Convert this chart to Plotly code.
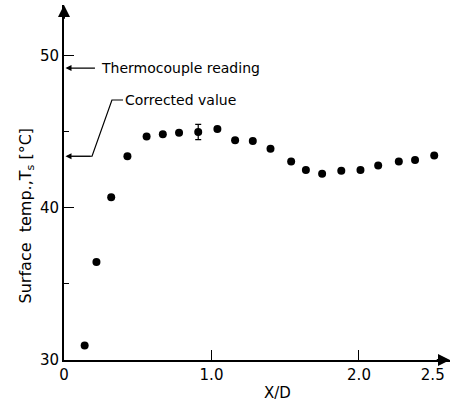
import plotly.graph_objects as go

# Data
x_d = [0.14, 0.22, 0.32, 0.43, 0.56, 0.67, 0.78, 0.91, 1.04, 1.16, 1.28,
       1.40, 1.54, 1.64, 1.75, 1.88, 2.01, 2.13, 2.27, 2.38, 2.51]
ts = [30.95, 36.45, 40.7, 43.4, 44.7, 44.85, 44.95, 45.0, 45.2, 44.45, 44.4,
      43.9, 43.05, 42.5, 42.25, 42.45, 42.5, 42.8, 43.05, 43.15, 43.45]
err = [0, 0, 0, 0, 0, 0, 0, 0.5, 0, 0, 0, 0, 0, 0, 0, 0, 0, 0, 0, 0, 0]

thermocouple_reading = 49.2
corrected_value = 43.4

x_tickvals = [0, 1, 2, 2.5]
x_ticktext = ["0", "1.0", "2.0", "2.5"]
y_tickvals = [30, 40, 50]
y_ticktext = ["30", "40", "50"]

FONT = "DejaVu Sans"
X_MAX = 2.617
Y_MAX = 53.35

fig = go.Figure()
fig.add_trace(go.Scatter(
    x=x_d, y=ts, mode="markers",
    marker=dict(color="black", size=8),
    error_y=dict(type="data", array=err, visible=True, color="black",
                 thickness=1.2, width=3),
    showlegend=False, hoverinfo="skip",
))

annotations = [
    # axis arrow heads
    dict(x=X_MAX, y=30, ax=X_MAX - 0.1, ay=30, xref="x", yref="y", axref="x", ayref="y",
         text="", showarrow=True, arrowhead=2, arrowsize=1.2, arrowwidth=2, arrowcolor="black"),
    dict(x=0, y=Y_MAX, ax=0, ay=Y_MAX - 1.0, xref="x", yref="y", axref="x", ayref="y",
         text="", showarrow=True, arrowhead=2, arrowsize=1.2, arrowwidth=2, arrowcolor="black"),
    # thermocouple reading
    dict(x=0.235, y=thermocouple_reading, xref="x", yref="y", text="Thermocouple reading",
         showarrow=False, xanchor="left", yanchor="middle",
         font=dict(family=FONT, size=14, color="black")),
    dict(x=0.01, y=thermocouple_reading, ax=0.22, ay=thermocouple_reading,
         xref="x", yref="y", axref="x", ayref="y", text="", showarrow=True,
         arrowhead=2, arrowsize=1, arrowwidth=1.2, arrowcolor="black"),
    # corrected value
    dict(x=0.40, y=47.1, xref="x", yref="y", text="Corrected value",
         showarrow=False, xanchor="left", yanchor="middle",
         font=dict(family=FONT, size=14, color="black")),
    dict(x=0.01, y=corrected_value, ax=0.19, ay=corrected_value,
         xref="x", yref="y", axref="x", ayref="y", text="", showarrow=True,
         arrowhead=2, arrowsize=1, arrowwidth=1.2, arrowcolor="black"),
    # y axis title
    dict(x=-0.097, y=0.406, xref="paper", yref="paper",
         text="Surface  temp.,T<sub>s</sub> [°C]", textangle=-90,
         showarrow=False, xanchor="center", yanchor="middle",
         font=dict(family=FONT, size=16, color="black")),
    # x axis title
    dict(x=0.552, y=-0.092, xref="paper", yref="paper", text="X/D",
         showarrow=False, xanchor="center", yanchor="middle",
         font=dict(family=FONT, size=15, color="black")),
]

shapes = [
    dict(type="path", xref="x", yref="y",
         path=f"M 0.40,47.1 L 0.325,47.1 L 0.19,{corrected_value} L 0.05,{corrected_value}",
         line=dict(color="black", width=1.2)),
]

fig.update_layout(
    width=452, height=402,
    margin=dict(l=64, r=2, t=5, b=42, autoexpand=False),
    paper_bgcolor="white", plot_bgcolor="white",
    font=dict(family=FONT, size=15, color="black"),
    annotations=annotations, shapes=shapes,
    xaxis=dict(range=[0, X_MAX], showgrid=False, zeroline=False,
               showline=True, linecolor="black", linewidth=2,
               tickvals=x_tickvals, ticktext=x_ticktext, ticks="",
               minor=dict(tickvals=[1, 2], ticks="inside", ticklen=10,
                          tickcolor="black", tickwidth=1.2, showgrid=False),
               tickfont=dict(family=FONT, size=15, color="black")),
    yaxis=dict(range=[30, Y_MAX], showgrid=False, zeroline=False,
               showline=True, linecolor="black", linewidth=2,
               tickvals=y_tickvals, ticktext=y_ticktext,
               ticks="inside", ticklen=10, tickcolor="black", tickwidth=1.2,
               minor=dict(tickvals=[35, 45], ticks="inside", ticklen=5,
                          tickcolor="black", tickwidth=1.2, showgrid=False),
               tickfont=dict(family=FONT, size=15, color="black")),
)

fig.write_html(
    "out.html",
    config={"displayModeBar": False},
    post_script="document.body.style.margin='0';document.body.style.padding='0';",
)
